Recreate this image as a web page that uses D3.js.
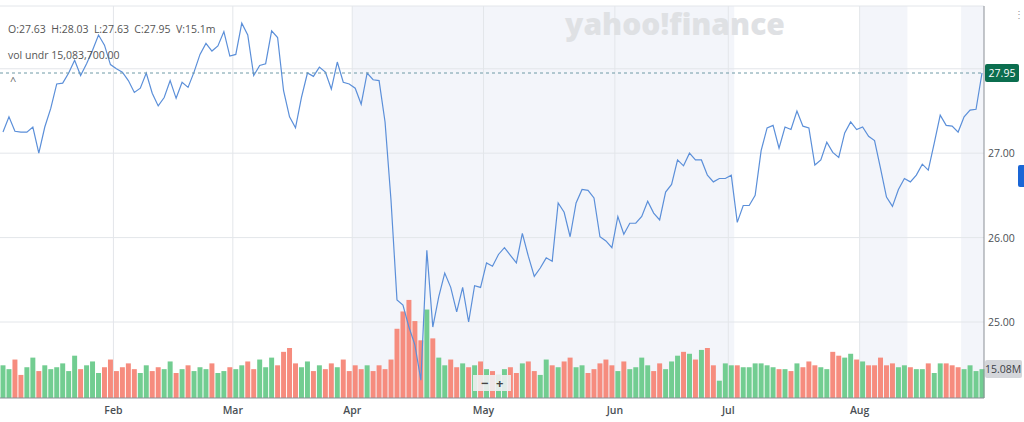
<!DOCTYPE html>
<html><head><meta charset="utf-8">
<script src="https://cdn.jsdelivr.net/npm/d3@7"></script>
<style>body{margin:0;background:#fff;font-family:"Open Sans",Roboto,sans-serif}</style>
</head><body><svg id="c" width="1024" height="422"></svg>
<script>
const closes=[27.25,27.43,27.26,27.25,27.25,27.31,27.00,27.31,27.53,27.82,
27.83,27.95,28.10,27.92,28.06,28.22,28.40,28.28,28.05,28.00,
27.96,27.86,27.72,27.77,27.95,27.71,27.56,27.66,27.86,27.65,
27.84,27.78,27.96,28.17,28.30,28.21,28.27,28.44,28.15,28.17,
28.54,28.40,27.92,28.04,28.06,28.45,28.37,27.74,27.43,27.30,
27.66,27.95,27.91,28.02,27.96,27.76,28.08,27.84,27.82,27.77,
27.58,27.95,27.87,27.86,27.37,26.44,25.26,25.20,24.94,24.73,
24.31,25.85,24.94,25.30,25.58,25.41,25.12,25.41,25.00,25.43,
25.41,25.70,25.66,25.80,25.88,25.79,25.70,26.05,25.78,25.54,
25.64,25.76,25.72,26.41,26.30,26.01,26.41,26.57,26.56,26.47,
26.01,25.96,25.88,26.25,26.04,26.17,26.17,26.25,26.43,26.29,
26.21,26.54,26.63,26.92,26.85,27.00,26.92,26.92,26.74,26.66,
26.70,26.70,26.74,26.18,26.38,26.38,26.50,27.03,27.30,27.33,
27.06,27.31,27.28,27.50,27.32,27.30,26.86,26.92,27.13,27.01,
26.95,27.24,27.37,27.28,27.31,27.20,27.15,26.82,26.48,26.37,
26.57,26.70,26.66,26.74,26.87,26.80,27.12,27.45,27.33,27.32,
27.25,27.43,27.51,27.52,27.95];
const volumes=[17,15,20,12,16,21,14,17,15,16,
18,14,22,15,17,19,13,16,20,14,
16,18,15,13,17,14,16,15,19,13,
15,17,14,16,15,18,13,14,16,15,
17,19,15,20,16,21,17,24,26,18,
16,19,14,17,15,18,16,20,14,17,
15,17,14,17,15,20,36,45,51,40,
30,46,31,21,17,20,16,18,16,17,
19,15,14,12,15,16,13,18,19,14,
12,20,17,16,19,21,16,17,13,15,
18,20,17,14,19,15,16,21,17,14,
18,15,19,22,24,23,20,25,26,17,
9,18,17,17,16,16,18,18,17,16,
15,15,14,18,16,19,17,16,15,24,
22,21,23,20,19,17,17,21,17,18,
16,17,16,15,15,18,13,18,18,17,
16,15,17,14,15];
const holidays=["2024-01-15","2024-02-19","2024-03-29","2024-05-27","2024-06-19","2024-07-04"];
const priceTicks=[25,26,27];
const lastClose=27.95, volLabel="15.08M";

const fmt=d3.timeFormat("%Y-%m-%d");
const dates=[];let d=new Date(2024,0,4);
while(dates.length<closes.length){const w=d.getDay();if(w>0&&w<6&&!holidays.includes(fmt(d)))dates.push(new Date(d));d=d3.timeDay.offset(d,1);}
const monthIdx=[];dates.forEach((dt,i)=>{if(i>0&&dt.getMonth()!==dates[i-1].getMonth())monthIdx.push(i);});

const svg=d3.select("#c");
const L=3,R=982,plotR=984,bottom=398;
const x=d3.scaleLinear().domain([0,closes.length-1]).range([L,R]);
const y=d3.scaleLinear().domain([25,lastClose]).range([322,73]);
const vy=d3.scaleLinear().domain([0,15.08]).range([bottom,369]);
const bw=(R-L)/(closes.length-1);

const bands=[[monthIdx[2],monthIdx[5]],[monthIdx[6],monthIdx[6]+7],[closes.length-4,closes.length-1]];
bands.forEach(b=>svg.append("rect").attr("x",x(b[0])-bw/2).attr("y",6).attr("width",Math.min(plotR,x(b[1])+bw/2)-(x(b[0])-bw/2)).attr("height",bottom-6).attr("fill","#f3f5fa"));

svg.append("line").attr("x1",0).attr("x2",plotR).attr("y1",6).attr("y2",6).attr("stroke","#e3e6ea");
priceTicks.forEach(t=>svg.append("line").attr("x1",0).attr("x2",plotR).attr("y1",y(t)).attr("y2",y(t)).attr("stroke","#e3e6ea"));
svg.append("line").attr("x1",0).attr("x2",plotR).attr("y1",y(28)).attr("y2",y(28)).attr("stroke","#e3e6ea");
monthIdx.forEach(i=>svg.append("line").attr("x1",x(i)-bw/2).attr("x2",x(i)-bw/2).attr("y1",6).attr("y2",bottom).attr("stroke","#e3e6ea"));

svg.append("text").attr("x",675).attr("y",35).attr("text-anchor","middle").attr("font-size",30).attr("font-weight",800).attr("fill","#dfe1e4").attr("font-family","Open Sans").text("yahoo!finance");

svg.selectAll(".v").data(volumes).join("rect").attr("x",(v,i)=>x(i)-bw/2+0.5).attr("width",bw-1)
 .attr("y",v=>vy(v)).attr("height",v=>bottom-vy(v))
 .attr("fill",(v,i)=>i===0||closes[i]>=closes[i-1]?"#72cd91":"#f68c7e");

svg.append("path").datum(closes).attr("fill","none").attr("stroke","#5b8fd9").attr("stroke-width",1.2)
 .attr("d",d3.line().x((v,i)=>x(i)).y(v=>y(v)));

svg.append("line").attr("x1",0).attr("x2",plotR).attr("y1",y(lastClose)).attr("y2",y(lastClose)).attr("stroke","#6f9aa6").attr("stroke-dasharray","3,3");

svg.append("line").attr("x1",plotR).attr("x2",plotR).attr("y1",6).attr("y2",bottom).attr("stroke","#8a8f96");
svg.append("line").attr("x1",0).attr("x2",plotR).attr("y1",bottom).attr("y2",bottom).attr("stroke","#8a8f96");
priceTicks.forEach(t=>svg.append("text").attr("x",988).attr("y",y(t)+4).attr("font-size",10.5).attr("fill","#4a4f55").text(t.toFixed(2)));
const mf=d3.timeFormat("%b");
monthIdx.forEach(i=>svg.append("text").attr("x",x(i)-bw/2).attr("y",414).attr("text-anchor","middle").attr("font-size",10.5).attr("font-weight",600).attr("fill","#4a4f55").text(mf(dates[i])));

svg.append("rect").attr("x",985).attr("y",y(lastClose)-9).attr("width",34).attr("height",18).attr("rx",2).attr("fill","#0b6e4f");
svg.append("text").attr("x",1002).attr("y",y(lastClose)+4).attr("text-anchor","middle").attr("font-size",10.5).attr("fill","#fff").text(lastClose.toFixed(2));
svg.append("rect").attr("x",985).attr("y",vy(15.08)-9).attr("width",37).attr("height",18).attr("rx",2).attr("fill","#d4d6da");
svg.append("text").attr("x",1003).attr("y",vy(15.08)+4).attr("text-anchor","middle").attr("font-size",10.5).attr("fill","#3c4046").text(volLabel);
svg.append("rect").attr("x",1018).attr("y",165).attr("width",8).attr("height",22).attr("rx",2).attr("fill","#1a66d6");
svg.append("text").attr("x",1014).attr("y",18).attr("font-size",10).attr("fill","#999").text("⋮");

svg.append("text").attr("x",8).attr("y",33).attr("font-size",10.5).attr("fill","#555").attr("xml:space","preserve").text("O:27.63  H:28.03  L:27.63  C:27.95  V:15.1m");
svg.append("text").attr("x",8).attr("y",59).attr("font-size",10.5).attr("fill","#555").text("vol undr  15,083,700.00");
svg.append("text").attr("x",10).attr("y",85).attr("font-size",11).attr("fill","#666").text("^");

svg.append("rect").attr("x",473).attr("y",375).attr("width",38).attr("height",16).attr("fill","#eef0f2").attr("opacity",0.9);
svg.append("text").attr("x",481).attr("y",388).attr("font-size",13).attr("font-weight",700).attr("fill","#444").text("−");
svg.append("text").attr("x",496).attr("y",388).attr("font-size",13).attr("font-weight",700).attr("fill","#444").text("+");
</script></body></html>
